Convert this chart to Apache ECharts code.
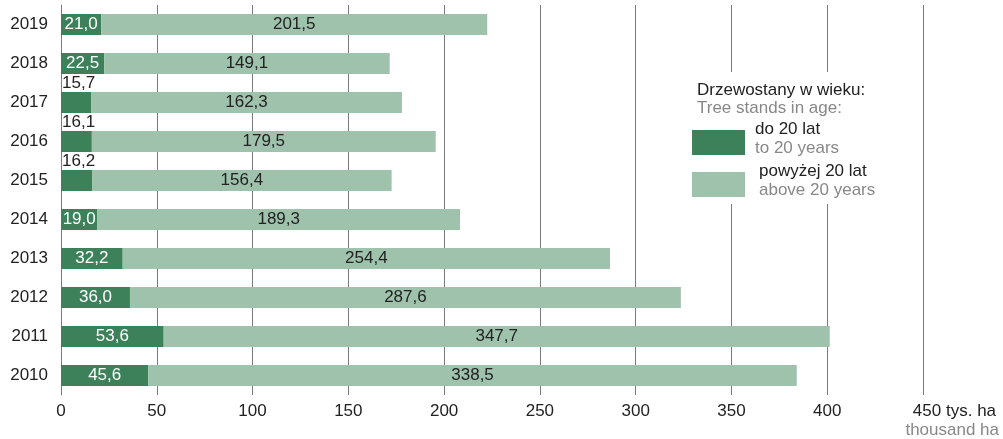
<!DOCTYPE html>
<html>
<head>
<meta charset="utf-8">
<script src="https://cdn.jsdelivr.net/npm/echarts@6/dist/echarts.min.js"></script>
<style>
html,body{margin:0;padding:0;background:#fff;}
#c{width:1003px;height:439px;}
</style>
</head>
<body>
<div id="c"></div>
<script>
const years = ['2010','2011','2012','2013','2014','2015','2016','2017','2018','2019'];
const young = [45.6, 53.6, 36.0, 32.2, 19.0, 16.2, 16.1, 15.7, 22.5, 21.0];
const old = [338.5, 347.7, 287.6, 254.4, 189.3, 156.4, 179.5, 162.3, 149.1, 201.5];
const aboveYears = ['2015','2016','2017'];
const xTicks = [0,50,100,150,200,250,300,350,400,450];

const FONT = '"Liberation Sans", Arial, sans-serif';
const FS = 17;
const DARK = '#3c8159';
const LIGHT = '#9fc2ac';
const fmt = v => v.toFixed(1).replace('.', ',');

const youngData = young.map((v, i) => {
  const d = { value: v };
  if (aboveYears.includes(years[i])) {
    d.label = { position: [1, -17], color: '#222' };
  }
  return d;
});

const chart = echarts.init(document.getElementById('c'), null, { renderer: 'canvas' });
chart.setOption({
  animation: false,
  textStyle: { fontFamily: FONT },
  grid: { left: 61, right: 80, top: 5, bottom: 44, containLabel: false },
  xAxis: {
    type: 'value', min: 0, max: 450, interval: 50,
    axisLine: { show: false },
    axisTick: { show: false },
    splitLine: { show: true, lineStyle: { color: '#7a7a7a', width: 1 } },
    axisLabel: { fontFamily: FONT, fontSize: FS, color: '#222', margin: 8,
      formatter: v => v === 450 ? '{n|450}' : (xTicks.includes(v) ? String(v) : ''),
      rich: { n: { fontFamily: FONT, fontSize: FS, color: '#222', padding: [0, 0, 0, 8] } } }
  },
  yAxis: {
    type: 'category', data: years,
    axisLine: { show: true, lineStyle: { color: '#7a7a7a', width: 1 } },
    axisTick: { show: false },
    axisLabel: { fontFamily: FONT, fontSize: FS, color: '#222', margin: 13 }
  },
  series: [
    {
      name: 'do 20 lat', type: 'bar', stack: 's', data: youngData,
      barWidth: '54%',
      itemStyle: { color: DARK },
      label: { show: true, position: 'inside', color: '#fff', fontSize: FS, fontFamily: FONT,
        formatter: p => fmt(p.value) }
    },
    {
      name: 'powyżej 20 lat', type: 'bar', stack: 's', data: old,
      barWidth: '54%',
      itemStyle: { color: LIGHT },
      label: { show: true, position: 'inside', color: '#222', fontSize: FS, fontFamily: FONT,
        formatter: p => fmt(p.value) }
    }
  ],
  graphic: [
    { type: 'rect', z: 10, shape: { x: 684, y: 72, width: 215, height: 132 }, style: { fill: '#fff' } },
    { type: 'text', z: 11, x: 697, y: 82, style: { text: 'Drzewostany w wieku:', font: FS + 'px ' + FONT, fill: '#222' } },
    { type: 'text', z: 11, x: 697, y: 100, style: { text: 'Tree stands in age:', font: FS + 'px ' + FONT, fill: '#888' } },
    { type: 'rect', z: 11, shape: { x: 692, y: 130, width: 53, height: 25 }, style: { fill: DARK } },
    { type: 'text', z: 11, x: 755, y: 121, style: { text: 'do 20 lat', font: FS + 'px ' + FONT, fill: '#222' } },
    { type: 'text', z: 11, x: 755, y: 140, style: { text: 'to 20 years', font: FS + 'px ' + FONT, fill: '#888' } },
    { type: 'rect', z: 11, shape: { x: 692, y: 172, width: 53, height: 25 }, style: { fill: LIGHT } },
    { type: 'text', z: 11, x: 759, y: 163, style: { text: 'powyżej 20 lat', font: FS + 'px ' + FONT, fill: '#222' } },
    { type: 'text', z: 11, x: 759, y: 182, style: { text: 'above 20 years', font: FS + 'px ' + FONT, fill: '#888' } },
    { type: 'text', z: 11, x: 946, y: 403, style: { text: 'tys. ha', font: FS + 'px ' + FONT, fill: '#222' } },
    { type: 'text', z: 11, x: 999, y: 422, style: { text: 'thousand ha', font: FS + 'px ' + FONT, fill: '#888', align: 'right' } }
  ]
});
</script>
</body>
</html>
